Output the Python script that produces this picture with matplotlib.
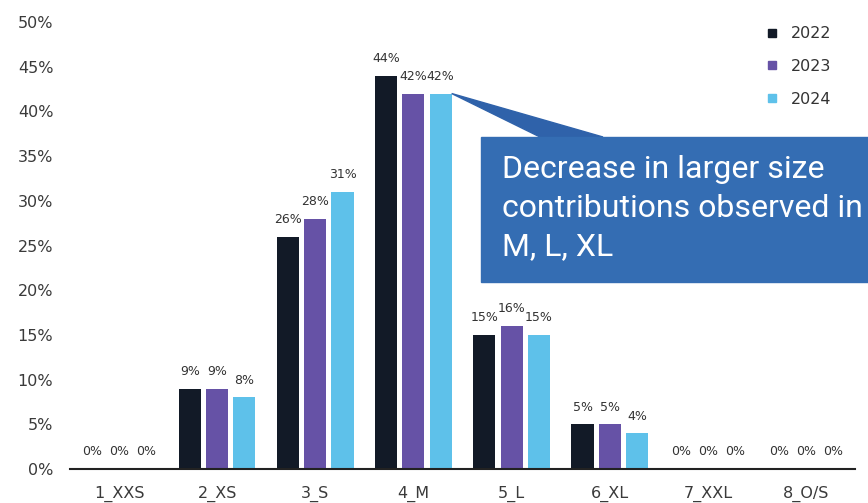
import numpy as np
import matplotlib.pyplot as plt
from matplotlib.lines import Line2D
from matplotlib.patches import Rectangle, Polygon

# size shares per year, in percent
sizes = ['1_XXS', '2_XS', '3_S', '4_M', '5_L', '6_XL', '7_XXL', '8_O/S']
share_2022 = [0, 9, 26, 44, 15, 5, 0, 0]
share_2023 = [0, 9, 28, 42, 16, 5, 0, 0]
share_2024 = [0, 8, 31, 42, 15, 4, 0, 0]
years = ['2022', '2023', '2024']
colors = ['#121a27', '#6652a6', '#5ec1ea']

note = 'Decrease in larger size\ncontributions observed in\nM, L, XL'

W, H = 868, 503
fig = plt.figure(figsize=(W / 100, H / 100), dpi=100)
ax = fig.add_axes([70 / W, 1 - 469 / H, (855 - 70) / W, (469 - 22) / H])

x = np.arange(len(sizes))
width = 0.225
step = 0.277

for i, (vals, c) in enumerate(zip([share_2022, share_2023, share_2024], colors)):
    pos = x + (i - 1) * step
    ax.bar(pos, vals, width=width, color=c, zorder=2)
    for px, v in zip(pos, vals):
        ax.text(px, v + 1.2, f'{v}%', ha='center', va='bottom',
                fontsize=9, color='#333333')

ax.set_xlim(-0.5, len(sizes) - 0.5)
ax.set_ylim(0, 50)
ax.set_yticks(range(0, 51, 5))
ax.set_yticklabels([f'{t}%' for t in range(0, 51, 5)])
ax.set_xticks(x)
ax.set_xticklabels(sizes)
ax.tick_params(axis='both', length=0, labelsize=11.5, labelcolor='#3a3a3a')
ax.tick_params(axis='y', pad=12)
ax.tick_params(axis='x', pad=12)
for s in ['top', 'right', 'left']:
    ax.spines[s].set_visible(False)
ax.spines['bottom'].set_color('#222222')
ax.spines['bottom'].set_linewidth(1.5)
ax.spines['bottom'].set_zorder(3)

handles = [Line2D([], [], marker='s', linestyle='', markersize=6, color=c)
           for c in colors]
fig.legend(handles, years, loc='upper left', bbox_to_anchor=(748 / W, 1 - 12 / H),
           frameon=False, fontsize=11.5, labelspacing=1.1, handletextpad=0.6,
           handlelength=1.2, labelcolor='#333333')

# callout box with a pointer to the 2024 bar of 4_M
tip_x, tip_y = ax.transData.transform((3 + step + width / 2, 42))
tip = fig.transFigure.inverted().transform((tip_x, tip_y))
fig.patches.append(Polygon([tip, (603 / W, 1 - 137 / H), (540 / W, 1 - 137 / H)],
                           closed=True, transform=fig.transFigure,
                           color='#2f62aa', zorder=4))
fig.patches.append(Rectangle((481 / W, 1 - 282 / H), (W - 481) / W, 145 / H,
                             transform=fig.transFigure, color='#346db3', zorder=5))
fig.text(502 / W, 1 - 155 / H, note, ha='left', va='top', color='white',
         fontsize=23, family='Roboto', linespacing=1.42, zorder=6)

fig.savefig('out.png', dpi=100)
